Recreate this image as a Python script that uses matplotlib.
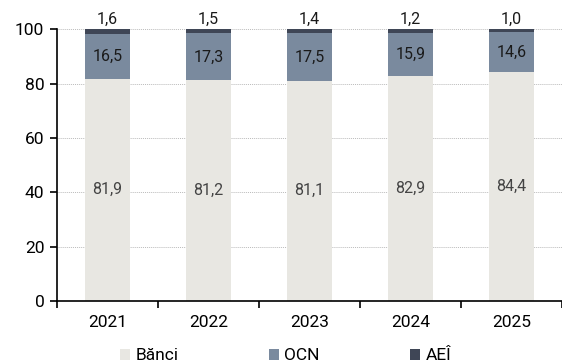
import numpy as np
import matplotlib.pyplot as plt

plt.rcParams['font.family'] = ['Roboto', 'DejaVu Sans']

years = ["2021", "2022", "2023", "2024", "2025"]
banci = [81.9, 81.2, 81.1, 82.9, 84.4]
ocn = [16.5, 17.3, 17.5, 15.9, 14.6]
aei = [1.6, 1.5, 1.4, 1.2, 1.0]

c_banci = "#e8e7e2"
c_ocn = "#7a8a9e"
c_aei = "#3f4656"

fig = plt.figure(figsize=(5.62, 3.63), dpi=100)
ax = fig.add_axes([0.101, 0.171, 0.899, 0.748])

x = np.arange(len(years))
w = 0.445
b1 = ax.bar(x, banci, w, color=c_banci, label="Bănci", zorder=2)
b2 = ax.bar(x, ocn, w, bottom=banci, color=c_ocn, label="OCN", zorder=2)
bot3 = np.array(banci) + np.array(ocn)
b3 = ax.bar(x, aei, w, bottom=bot3, color=c_aei, label="AEÎ", zorder=2)

def fmt(v):
    return f"{v:.1f}".replace(".", ",")

for i in range(len(years)):
    ax.text(x[i], banci[i] / 2, fmt(banci[i]), ha="center", va="center",
            fontsize=11.5, color="#444444", zorder=3)
    ax.text(x[i], banci[i] + ocn[i] / 2, fmt(ocn[i]), ha="center", va="center",
            fontsize=11.5, color="#1a1a1a", zorder=3)
    ax.text(x[i], bot3[i] + aei[i] + 0.8, fmt(aei[i]), ha="center", va="bottom",
            fontsize=11.5, color="#1a1a1a", zorder=3)

ax.set_ylim(0, 100)
ax.set_xlim(-0.5, 4.5)
ax.set_yticks(range(0, 101, 20))
ax.set_xticks(x)
ax.set_xticklabels(years)
ax.set_xticks(np.arange(-0.5, 5, 1), minor=True)
ax.tick_params(axis="x", which="major", length=0, labelsize=12.5, pad=10)
ax.tick_params(axis="x", which="minor", length=5, width=1.2)
ax.tick_params(axis="y", length=5, width=1.2, labelsize=12.5, pad=4)
ax.yaxis.grid(True, linestyle=(0, (1, 1)), color="#bbbbbb", linewidth=0.7, zorder=0)

for s in ["top", "right"]:
    ax.spines[s].set_visible(False)
for s in ["left", "bottom"]:
    ax.spines[s].set_linewidth(1.2)

fig.legend(handles=[b1, b2, b3], labels=["Bănci", "OCN", "AEÎ"],
           loc="center", bbox_to_anchor=(0.508, 0.02), ncol=3,
           frameon=False, fontsize=12.5, handlelength=0.6, handleheight=0.6,
           handletextpad=0.3, columnspacing=5.2, borderpad=0)

fig.savefig("out.png", dpi=100)
